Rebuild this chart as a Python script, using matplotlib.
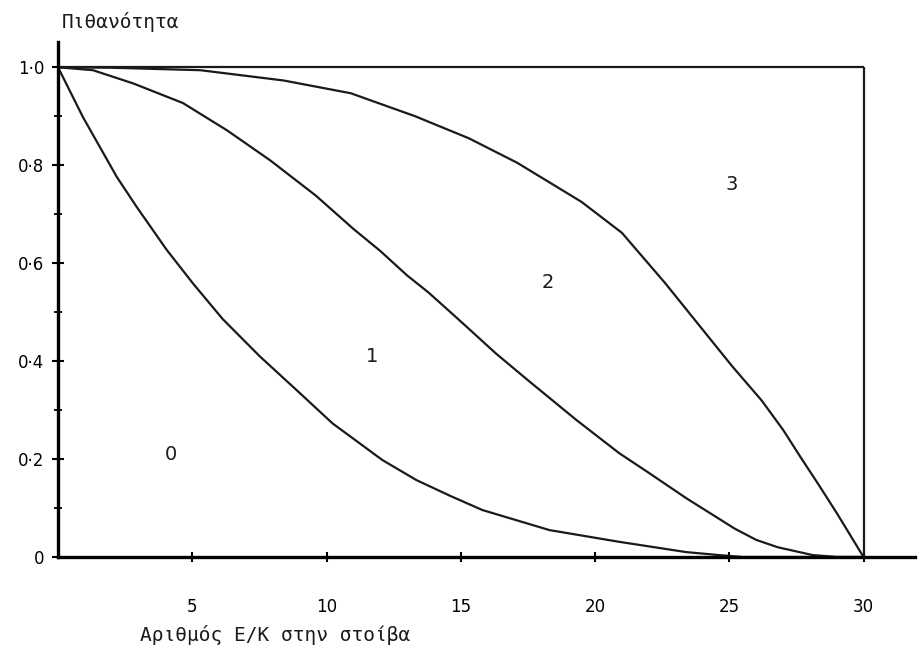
import matplotlib
matplotlib.use("Agg")
import matplotlib.pyplot as plt

# probability curves vs number of items in the stack
x_a = [0, 0.93, 2.19, 2.94, 4.05, 5.02, 6.13, 7.51, 9.0, 10.22, 12.08, 13.35,
       14.6, 15.8, 18.3, 20.9, 23.4, 24.6, 25.5, 30]
y_a = [1.0, 0.898, 0.776, 0.714, 0.627, 0.559, 0.486, 0.41, 0.335, 0.273, 0.198, 0.157,
       0.125, 0.096, 0.055, 0.031, 0.010, 0.004, 0.0, 0.0]

x_b = [0, 1.3, 2.8, 4.65, 6.3, 7.9, 9.6, 11.0, 12.0, 13.0, 13.8, 15.06, 16.3, 17.5,
       19.3, 20.9, 22.0, 23.4, 25.2, 26.0, 26.8, 28.1, 29.0, 30]
y_b = [1.0, 0.994, 0.967, 0.927, 0.871, 0.81, 0.738, 0.67, 0.625, 0.575, 0.54, 0.478, 0.416, 0.361,
       0.28, 0.212, 0.172, 0.12, 0.058, 0.035, 0.02, 0.004, 0.0, 0.0]

x_c = [0, 2, 5.3, 8.4, 10.9, 13.3, 15.3, 17.1, 19.5, 21.0, 22.6, 25.1, 26.2,
       27.0, 27.7, 28.3, 29.0, 29.5, 30]
y_c = [1.0, 0.999, 0.994, 0.973, 0.947, 0.9, 0.855, 0.805, 0.725, 0.662, 0.56, 0.39, 0.32,
       0.26, 0.2, 0.15, 0.09, 0.045, 0.0]

region_names = ["0", "1", "2", "3"]
region_x = [4.2, 11.7, 18.25, 25.1]
region_y = [0.21, 0.41, 0.56, 0.76]

x_ticks = [5, 10, 15, 20, 25, 30]
y_ticks = [0, 0.2, 0.4, 0.6, 0.8, 1.0]
y_ticklabels = ["0", "0·2", "0·4", "0·6", "0·8", "1·0"]
y_minor = [0.1, 0.3, 0.5, 0.7, 0.9]

x_end = 30
p_end = 1.0

fig = plt.figure(figsize=(9.21, 6.53), dpi=100)
ax = fig.add_axes([0.063, 0.147, 0.93, 0.789])

for xs, ys in [(x_a, y_a), (x_b, y_b), (x_c, y_c)]:
    ax.plot(xs, ys, color="#1a1a1a", lw=1.6, solid_joinstyle="round")

# frame drawn by hand: top line at P=1 and right line at x=30
ax.hlines(p_end, 0, x_end, color="#1a1a1a", lw=1.6)
ax.vlines(x_end, 0, p_end, color="#1a1a1a", lw=1.6)

for name, rx, ry in zip(region_names, region_x, region_y):
    ax.text(rx, ry, name, fontsize=14, ha="center", va="center", color="#1a1a1a")

ax.set_xlim(0, 31.9)
ax.set_ylim(0, 1.052)
ax.spines["top"].set_visible(False)
ax.spines["right"].set_visible(False)
ax.spines["left"].set_linewidth(2.4)
ax.spines["bottom"].set_linewidth(2.4)

ax.set_xticks(x_ticks)
ax.set_xticklabels([str(t) for t in x_ticks])
ax.set_yticks(y_ticks)
ax.set_yticklabels(y_ticklabels)
ax.set_yticks(y_minor, minor=True)
ax.tick_params(axis="x", direction="inout", length=7, width=1.5, pad=26, labelsize=12)
ax.tick_params(axis="y", direction="inout", length=8, width=1.5, pad=6, labelsize=12)
ax.tick_params(axis="y", which="minor", direction="inout", length=6, width=1.3)

fig.text(0.067, 0.966, "Πιθανότητα", fontsize=14, family="DejaVu Sans Mono",
         ha="left", va="center", color="#1a1a1a")
fig.text(0.152, 0.027, "Αριθμός Ε/Κ στην στοίβα", fontsize=14, family="DejaVu Sans Mono",
         ha="left", va="center", color="#1a1a1a")

fig.savefig("out.png", dpi=100)
